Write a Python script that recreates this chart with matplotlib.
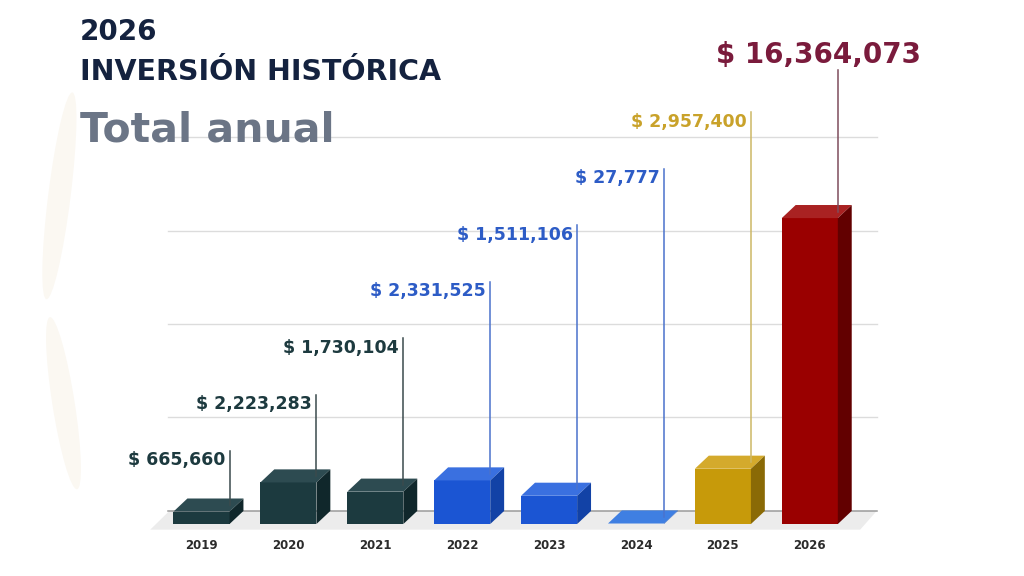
import matplotlib

matplotlib.use("Agg")
import matplotlib.pyplot as plt
from matplotlib.patches import Ellipse, Polygon

YEARS = ["2019", "2020", "2021", "2022", "2023", "2024", "2025", "2026"]
VALUES = [665660, 2223283, 1730104, 2331525, 1511106, 27777, 2957400, 16364073]
LABELS = [
    "$ 665,660", "$ 2,223,283", "$ 1,730,104", "$ 2,331,525",
    "$ 1,511,106", "$ 27,777", "$ 2,957,400", "$ 16,364,073",
]
GRID_VALUES = [0, 5_000_000, 10_000_000, 15_000_000, 20_000_000]

# front / top / side / label / leader colours per bar
TEAL = ("#1c3a3f", "#2d4b51", "#10272b", "#1d3a3f", "#3b4a4d")
BLUE = ("#1b55d3", "#3a70e0", "#1242a6", "#2d5cc6", "#4a72cc")
FLAT = ("#3a78dc", "#3f7fe2", "#2d62bd", "#2d5cc6", "#4a72cc")
GOLD = ("#c79a0a", "#d4aa2c", "#8a6a06", "#c9a22a", "#cdb866")
RED = ("#9a0000", "#a92222", "#620000", "#7a1b3c", "#7e4d5c")
STYLES = [TEAL, TEAL, TEAL, BLUE, BLUE, FLAT, GOLD, RED]

WIDTH = 0.645
DX = 0.16          # depth offset in category units
DY = 0.7e6         # depth offset in value units
LEAD0, LEAD_STEP = 3.9e6, 3.02e6   # staircase of label heights
FONT = ["DejaVu Sans"]


def _box(ax, x, h, front, top, side):
    left, right = x - WIDTH / 2, x + WIDTH / 2
    ax.bar(x, h, width=WIDTH, color=front, zorder=3)
    ax.add_patch(Polygon([(left, h), (right, h), (right + DX, h + DY), (left + DX, h + DY)],
                         closed=True, facecolor=top, edgecolor="none", zorder=3))
    ax.add_patch(Polygon([(right, 0), (right + DX, DY), (right + DX, h + DY), (right, h)],
                         closed=True, facecolor=side, edgecolor="none", zorder=3))


fig = plt.figure(figsize=(10.24, 5.76), dpi=100)
fig.patch.set_facecolor("white")

# faint leaf decoration on the left
for cx, cy, w, hh, ang in [(0.058, 0.66, 0.022, 0.36, -4), (0.062, 0.30, 0.022, 0.30, 5)]:
    fig.patches.append(Ellipse((cx, cy), w, hh, angle=ang, transform=fig.transFigure,
                               facecolor="#fbf8f2", edgecolor="none", zorder=0))

ax = fig.add_axes([0, 0, 1, 1])
ax.set_xlim(-2.319, 9.465)
ax.set_ylim(-2.78e6, 28.03e6)
ax.axis("off")

n = len(YEARS)
# floor
ax.add_patch(Polygon([(-0.59, -0.3e6), (n - 1 + 0.58, -0.3e6),
                      (n - 1 + 0.77, DY), (-0.37, DY)],
                     closed=True, facecolor="#ececec", edgecolor="none", zorder=1))
# back-wall gridlines
for g in GRID_VALUES:
    ax.plot([-0.385, n - 1 + 0.77], [g + DY, g + DY],
            color="#9a9a9a" if g == 0 else "#dcdcdc", lw=1.1 if g == 0 else 1.0, zorder=1.5)

for i, (year, val, lab, st) in enumerate(zip(YEARS, VALUES, LABELS, STYLES)):
    front, top, side, lab_col, line_col = st
    _box(ax, i, val, front, top, side)
    lx = i + WIDTH / 2
    if i == n - 1:
        top_y = LEAD0 + LEAD_STEP * (i - 0.25)
        ax.plot([lx, lx], [val + DY * 0.5, top_y], color=line_col, lw=1.1, zorder=4)
        ax.text(i + 0.1, top_y + 0.05e6, lab, ha="center", va="bottom", color=lab_col,
                fontsize=20, fontweight="bold", family=FONT, zorder=5)
    else:
        top_y = LEAD0 + LEAD_STEP * i
        ax.plot([lx, lx], [val + DY * 0.5, top_y], color=line_col, lw=1.1, zorder=4)
        ax.text(lx - 0.05, top_y - 0.5e6, lab, ha="right", va="center", color=lab_col,
                fontsize=12.5, fontweight="bold", family=FONT, zorder=5)
    ax.text(i, -1.15e6, year, ha="center", va="center", color="#2b2b2b",
            fontsize=8.5, fontweight="bold", family=FONT)

fig.text(0.078, 1 - 32 / 576, "2026", ha="left", va="center", color="#14223f",
         fontsize=20, fontweight="bold", family=FONT)
fig.text(0.078, 1 - 72 / 576, "INVERSIÓN HISTÓRICA", ha="left", va="center", color="#14223f",
         fontsize=20.5, fontweight="bold", family=FONT)
fig.text(0.078, 1 - 131 / 576, "Total anual", ha="left", va="center", color="#6b7586",
         fontsize=29.5, fontweight="bold", family=FONT, zorder=5)

fig.savefig("out.png", dpi=100, facecolor="white")
plt.close(fig)
